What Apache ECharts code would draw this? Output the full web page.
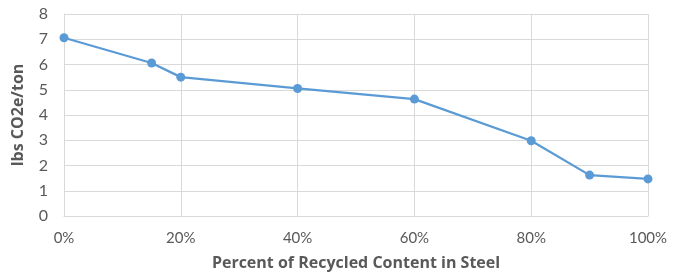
<!DOCTYPE html>
<html>
<head>
<meta charset="utf-8">
<script src="https://cdn.jsdelivr.net/npm/echarts@6/dist/echarts.min.js"></script>
<style>
  html, body { margin: 0; padding: 0; background: #fff; }
  #chart { width: 684px; height: 277px; }
</style>
</head>
<body>
<div id="chart"></div>
<script>
// 回收钢含量 vs CO2e
const recycled = [0, 15, 20, 40, 60, 80, 90, 100];
const co2 = [7.06, 6.06, 5.5, 5.05, 4.63, 2.98, 1.62, 1.47];

(function () {
  let myChart = echarts.init(document.getElementById("chart"));
  let font = "Lato, 'Open Sans', sans-serif";
  let titleFont = "'Open Sans', Lato, sans-serif";
  let option = {
    animation: false,
    grid: { left: 64, right: 36, top: 14, bottom: 61 },
    xAxis: {
      type: "value",
      min: 0,
      max: 100,
      interval: 20,
      name: "Percent of Recycled Content in Steel",
      nameLocation: "middle",
      nameGap: 39,
      nameTextStyle: { color: "#595959", fontSize: 16, fontWeight: "bold", fontFamily: titleFont },
      axisLabel: {
        formatter: "{value}%",
        color: "#595959",
        fontSize: 15,
        fontFamily: font,
        margin: 15,
      },
      axisLine: { show: true, lineStyle: { color: "#d9d9d9", width: 1 } },
      axisTick: { show: false },
      splitLine: { show: true, lineStyle: { color: "#d9d9d9", width: 1 } },
    },
    yAxis: {
      type: "value",
      min: 0,
      max: 8,
      interval: 1,
      name: "lbs CO2e/ton",
      nameLocation: "middle",
      nameGap: 38,
      nameTextStyle: { color: "#595959", fontSize: 16, fontWeight: "bold", fontFamily: titleFont },
      axisLabel: { color: "#595959", fontSize: 16, fontFamily: font, margin: 16 },
      axisLine: { show: true, lineStyle: { color: "#d9d9d9", width: 1 } },
      axisTick: { show: false },
      splitLine: { lineStyle: { color: "#d9d9d9", width: 1 } },
    },
    series: [
      {
        type: "line",
        data: recycled.map((x, i) => [x, co2[i]]),
        symbol: "circle",
        symbolSize: 9,
        lineStyle: { color: "#5b9bd5", width: 2.25 },
        itemStyle: { color: "#5b9bd5" },
      },
    ],
  };
  myChart.setOption(option);
  window.addEventListener("resize", function () {
    myChart.resize();
  });
})();
</script>
</body>
</html>
